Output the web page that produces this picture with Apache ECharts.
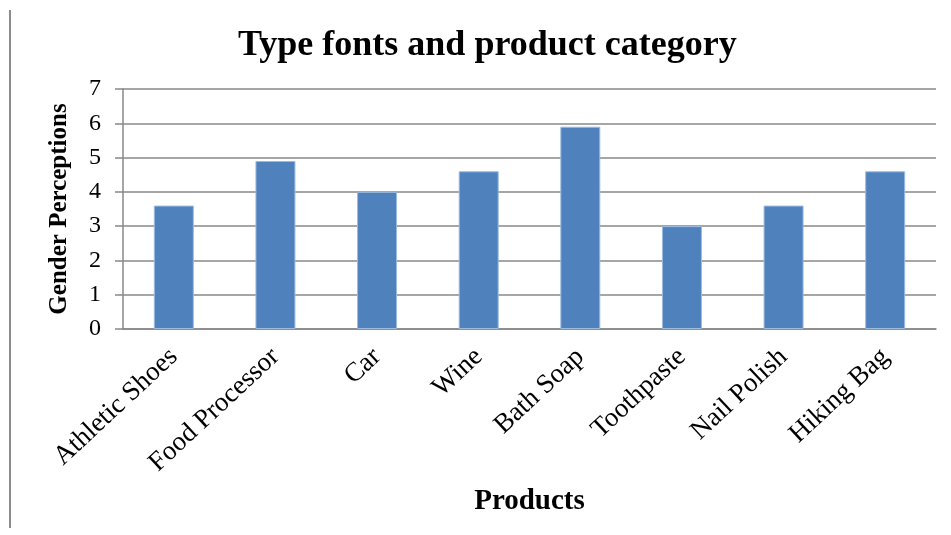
<!DOCTYPE html>
<html>
<head>
<meta charset="utf-8">
<script src="https://cdn.jsdelivr.net/npm/echarts@6/dist/echarts.min.js"></script>
<style>html,body{margin:0;padding:0;background:#fff}#c{width:951px;height:535px}</style>
</head>
<body>
<div id="c"></div>
<script>
const categories = ["Athletic Shoes","Food Processor","Car","Wine","Bath Soap","Toothpaste","Nail Polish","Hiking Bag"];
const values = [3.6, 4.9, 4.0, 4.6, 5.9, 3.0, 3.6, 4.6];
const yTicks = [0,1,2,3,4,5,6,7];

const FF = '"Liberation Serif","Times New Roman",serif';
const chart = echarts.init(document.getElementById('c'), null, {renderer:'canvas'});
chart.setOption({
  animation:false,
  backgroundColor:'#fff',
  title:{text:'Type fonts and product category',left:233,top:23,
    textStyle:{fontFamily:FF,fontWeight:'bold',fontSize:36,color:'#000'}},
  graphic:[{type:'line',shape:{x1:10,y1:10,x2:10,y2:528},style:{stroke:'#8c8c8c',lineWidth:2}}],
  grid:{left:123,right:15,top:89,bottom:206},
  xAxis:{type:'category',data:categories,
    axisLine:{show:true,lineStyle:{color:'#888',width:1.5}},
    axisTick:{show:false},
    axisLabel:{rotate:43,fontFamily:FF,fontSize:27,color:'#000',margin:24,interval:0},
    name:'Products',nameLocation:'middle',nameGap:158,
    nameTextStyle:{fontFamily:FF,fontWeight:'bold',fontSize:29,color:'#000'}},
  yAxis:{type:'value',min:yTicks[0],max:yTicks[yTicks.length-1],interval:1,
    axisLine:{show:true,lineStyle:{color:'#888',width:1.5}},
    axisTick:{show:true,length:8,lineStyle:{color:'#888',width:1.5}},
    splitLine:{show:true,lineStyle:{color:'#888',width:1.5}},
    axisLabel:{fontFamily:FF,fontSize:24,color:'#000',margin:22},
    name:'Gender Perceptions',nameLocation:'middle',nameGap:51,
    nameTextStyle:{fontFamily:FF,fontWeight:'bold',fontSize:25,color:'#000'}},
  series:[{type:'bar',data:values,barWidth:40,
    itemStyle:{color:'#4F81BD',borderColor:'#9dbbe0',borderWidth:1}}]
});
</script>
</body>
</html>
